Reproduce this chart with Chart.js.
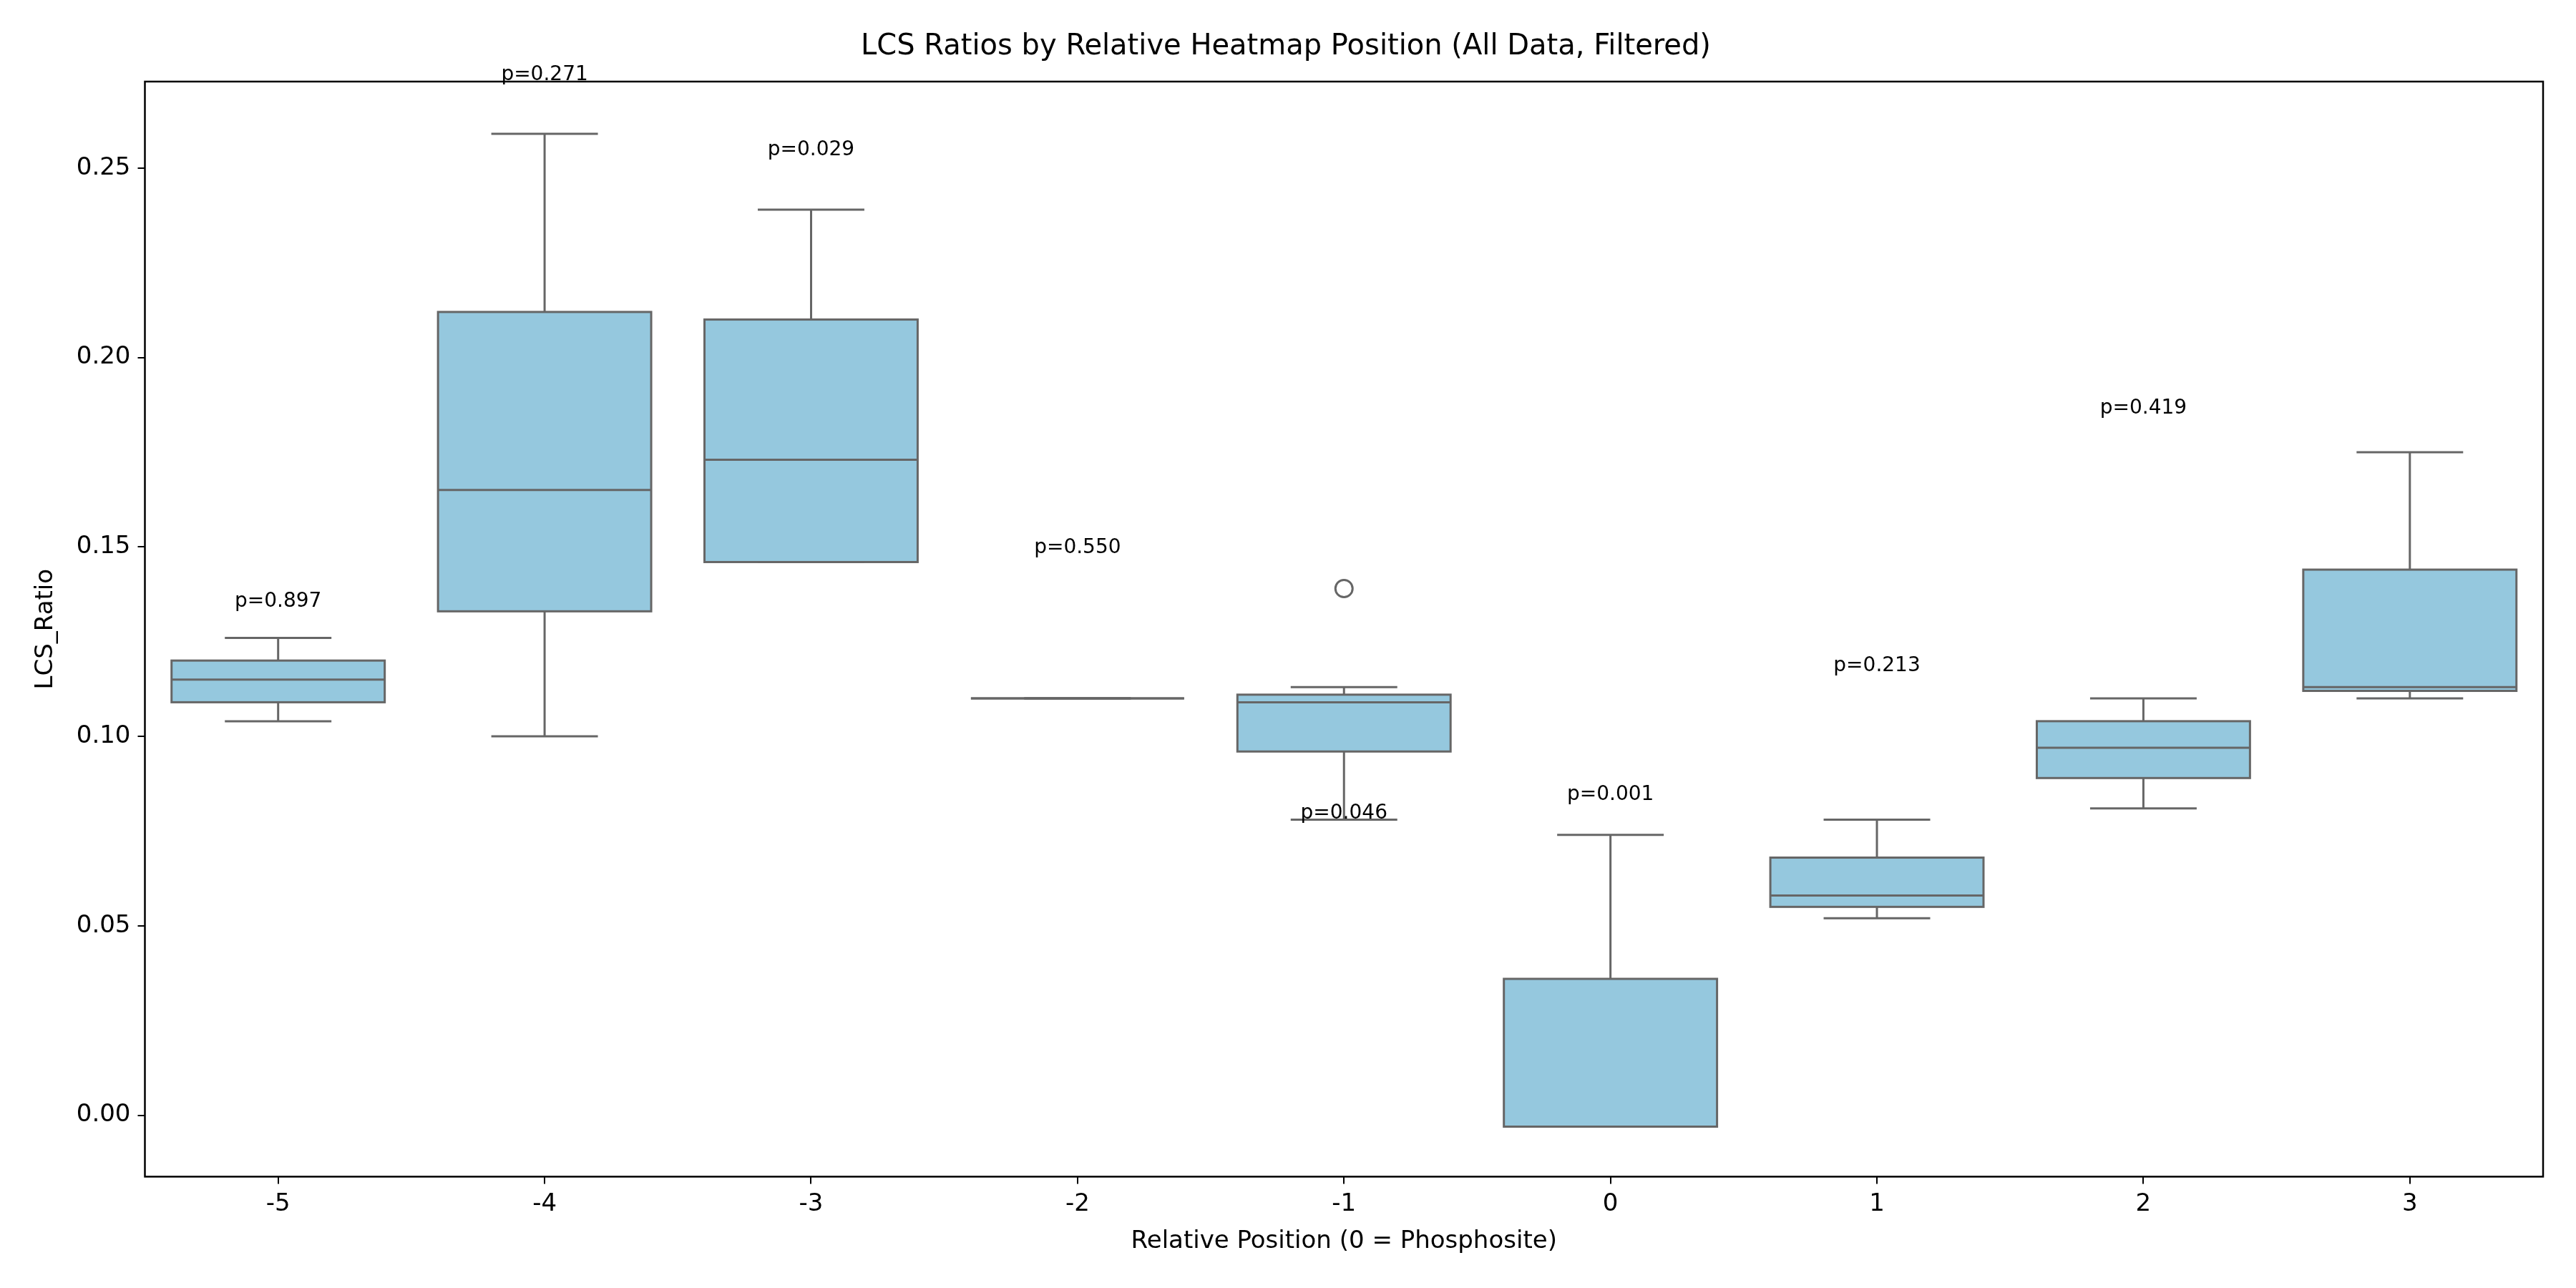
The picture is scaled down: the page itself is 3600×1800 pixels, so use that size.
<!DOCTYPE html>
<html>
<head>
<script src="https://cdn.jsdelivr.net/npm/chart.js@4"></script>
<style>body{margin:0;background:#fff}</style>
</head>
<body>
<canvas id="c" width="3600" height="1800"></canvas>
<script>
const positions = ['-5', '-4', '-3', '-2', '-1', '0', '1', '2', '3'];
const whiskerLow = [0.104, 0.100, 0.146, 0.110, 0.078, -0.003, 0.052, 0.081, 0.110];
const q1 = [0.109, 0.133, 0.146, 0.110, 0.096, -0.003, 0.055, 0.089, 0.112];
const medians = [0.115, 0.165, 0.173, 0.110, 0.109, -0.003, 0.058, 0.097, 0.113];
const q3 = [0.120, 0.212, 0.210, 0.110, 0.111, 0.036, 0.068, 0.104, 0.144];
const whiskerHigh = [0.126, 0.259, 0.239, 0.110, 0.113, 0.074, 0.078, 0.110, 0.175];
const outliers = [[], [], [], [], [0.139], [], [], [], []];
const pLabels = ['p=0.897', 'p=0.271', 'p=0.029', 'p=0.550', 'p=0.046', 'p=0.001', 'p=0.213', 'p=0.419', null];
const pLabelY = [0.133, 0.272, 0.252, 0.147, 0.077, 0.082, 0.116, 0.184, null];
const yTicks = [0.00, 0.05, 0.10, 0.15, 0.20, 0.25];

const EDGE = '#666666';
const FONT = 'DejaVu Sans';

const boxPlugin = {
  id: 'boxExtras',
  afterDatasetsDraw(chart) {
    const ctx = chart.ctx, x = chart.scales.x, y = chart.scales.y;
    const meta = chart.getDatasetMeta(0);
    ctx.save();
    ctx.strokeStyle = EDGE;
    ctx.lineWidth = 3;
    positions.forEach((p, i) => {
      const bar = meta.data[i];
      const cx = x.getPixelForValue(i);
      const half = bar.width / 2;
      const capHalf = half / 2;
      const line = (x1, y1, x2, y2) => { ctx.beginPath(); ctx.moveTo(x1, y1); ctx.lineTo(x2, y2); ctx.stroke(); };
      // whiskers
      line(cx, y.getPixelForValue(q3[i]), cx, y.getPixelForValue(whiskerHigh[i]));
      line(cx, y.getPixelForValue(q1[i]), cx, y.getPixelForValue(whiskerLow[i]));
      line(cx - capHalf, y.getPixelForValue(whiskerHigh[i]), cx + capHalf, y.getPixelForValue(whiskerHigh[i]));
      line(cx - capHalf, y.getPixelForValue(whiskerLow[i]), cx + capHalf, y.getPixelForValue(whiskerLow[i]));
      // box outline + median
      const top = y.getPixelForValue(q3[i]), bot = y.getPixelForValue(q1[i]);
      ctx.strokeRect(cx - half, top, half * 2, bot - top);
      line(cx - half, y.getPixelForValue(medians[i]), cx + half, y.getPixelForValue(medians[i]));
      // outliers
      outliers[i].forEach(v => {
        ctx.beginPath();
        ctx.arc(cx, y.getPixelForValue(v), 12, 0, Math.PI * 2);
        ctx.stroke();
      });
      // p-value labels
      if (pLabels[i]) {
        ctx.fillStyle = '#000';
        ctx.font = '28px ' + FONT;
        ctx.textAlign = 'center';
        ctx.textBaseline = 'bottom';
        ctx.fillText(pLabels[i], cx, y.getPixelForValue(pLabelY[i]));
      }
    });
    // frame
    const a = chart.chartArea;
    ctx.strokeStyle = '#000';
    ctx.lineWidth = 2.5;
    ctx.strokeRect(a.left, a.top, a.right - a.left, a.bottom - a.top);
    ctx.restore();
  }
};

new Chart(document.getElementById('c').getContext('2d'), {
  type: 'bar',
  data: {
    labels: positions,
    datasets: [{
      data: positions.map((p, i) => [q1[i], q3[i]]),
      backgroundColor: '#95c8de',
      borderWidth: 0,
      barPercentage: 0.8,
      categoryPercentage: 1.0
    }]
  },
  options: {
    responsive: false,
    devicePixelRatio: 1,
    animation: false,
    layout: { padding: { left: 40, right: 46, top: 20, bottom: 40 } },
    plugins: {
      legend: { display: false },
      tooltip: { enabled: false },
      title: {
        display: true,
        text: 'LCS Ratios by Relative Heatmap Position (All Data, Filtered)',
        color: '#000',
        font: { family: FONT, size: 40, weight: 'normal' },
        padding: { top: 22, bottom: 24 }
      }
    },
    scales: {
      x: {
        grid: { display: true, offset: false, drawOnChartArea: false, color: '#000', tickLength: 10, lineWidth: 2 },
        border: { display: false },
        ticks: { color: '#000', font: { family: FONT, size: 34 }, padding: 8 },
        title: { display: true, text: 'Relative Position (0 = Phosphosite)', color: '#000', font: { family: FONT, size: 34 }, padding: { top: 4 } }
      },
      y: {
        min: -0.0162,
        max: 0.2728,
        afterBuildTicks: axis => { axis.ticks = yTicks.map(v => ({ value: v })); },
        grid: { display: true, drawOnChartArea: false, color: '#000', tickLength: 10, lineWidth: 2 },
        border: { display: false },
        ticks: { color: '#000', font: { family: FONT, size: 34 }, padding: 10, callback: v => v.toFixed(2) },
        title: { display: true, text: 'LCS_Ratio', color: '#000', font: { family: FONT, size: 34 }, padding: { bottom: 12 } }
      }
    }
  },
  plugins: [boxPlugin]
});
</script>
</body>
</html>
